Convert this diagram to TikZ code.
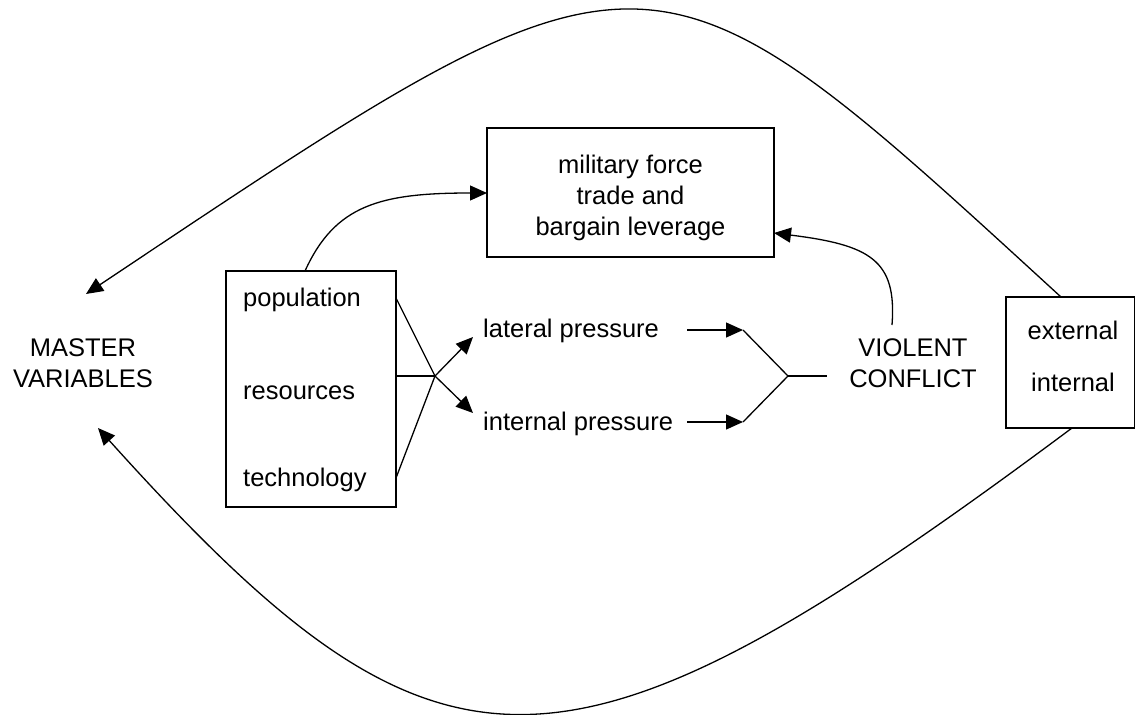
\documentclass[tikz,border=0pt]{standalone}
\usepackage{fontspec}
\setmainfont{Liberation Sans}
\usetikzlibrary{arrows.meta}
\tikzset{
  every picture/.style={x=1pt,y=-1pt},
  lbl/.style={inner sep=0pt, font=\fontsize{25.5}{31}\selectfont},
  boxed/.style={draw, line width=1.3pt, inner sep=0pt},
  conn/.style={line width=1.3pt},
  arr/.style={line width=1.3pt, -{Triangle[length=17pt,width=15pt]}}
}
\begin{document}
\begin{tikzpicture}
\useasboundingbox (0,0) rectangle (1136,715);
% boxes
\node[boxed, minimum width=287pt, minimum height=129pt] (mil) at (630.5,192.5) {};
\node[lbl, align=center] (miltxt) at (630.5,197.5) {military force\\trade and\\bargain leverage};
\node[boxed, minimum width=170pt, minimum height=236pt] (src) at (311,389) {};
\node[lbl, anchor=base west] (pop) at (243,306) {population};
\node[lbl, anchor=base west] (res) at (243,399) {resources};
\node[lbl, anchor=base west] (tech) at (243,486) {technology};
\node[boxed, minimum width=128.5pt, minimum height=131pt] (ext) at (1070.25,362.5) {};
\node[lbl, align=center, font=\fontsize{25.5}{52}\selectfont] (exttxt) at (1073,356.7) {external\\internal};
% labels
\node[lbl, anchor=base west] (lat) at (483,337) {lateral pressure};
\node[lbl, anchor=base west] (int) at (483,430) {internal pressure};
\node[lbl, align=center] (vc) at (913,363.3) {VIOLENT\\CONFLICT};
\node[lbl, align=center] (mv) at (83,362.8) {MASTER\\VARIABLES};
% coordinates
\coordinate (popR) at (396,298);
\coordinate (resR) at (396,376);
\coordinate (techR) at (396,478);
\coordinate (jn) at (435,376);
\coordinate (latTip) at (473,337);
\coordinate (intTip) at (473,413);
\coordinate (latA) at (687,330);
\coordinate (latB) at (743,330);
\coordinate (intA) at (687,422);
\coordinate (intB) at (743,422);
\coordinate (vj) at (788,376);
\coordinate (vjEnd) at (827,376);
\coordinate (srcT) at (305,271);
\coordinate (milL) at (487,193);
\coordinate (vcT) at (892,325);
\coordinate (milR) at (774,233);
\coordinate (extT) at (1061,297);
\coordinate (extB) at (1072,428);
\coordinate (mvT) at (86,294);
\coordinate (mvB) at (98,428);
% connectors
\draw[arr] (popR) -- (jn) -- (intTip);
\draw[arr] (techR) -- (jn) -- (latTip);
\draw[conn] (resR) -- (jn);
\draw[arr] (latA) -- (latB);
\draw[arr] (intA) -- (intB);
\draw[conn] (latB) -- (vj) -- (intB);
\draw[conn] (vj) -- (vjEnd);
\draw[arr] (srcT) .. controls (335,205) and (380,193) .. (milL);
\draw[arr] (vcT) .. controls (897,260) and (870,245) .. (milR);
\draw[arr] (extT) .. controls (644,-85) and (654,-85) .. (mvT);
\draw[arr] (extB) .. controls (562,808) and (440,808) .. (mvB);
\end{tikzpicture}
\end{document}
